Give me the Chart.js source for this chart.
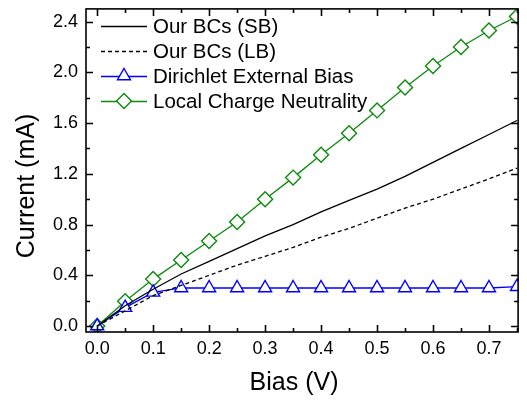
<!DOCTYPE html>
<html>
<head>
<meta charset="utf-8">
<script src="https://cdn.jsdelivr.net/npm/chart.js@4/dist/chart.umd.min.js"></script>
<style>
    html, body { margin: 0; padding: 0; background: #ffffff; }
    #wrap { width: 527px; height: 403px; }
</style>
</head>
<body>
<div id="wrap"><canvas id="iv-plot" width="527" height="403"></canvas></div>
<script>
const biasV = [0.00, 0.05, 0.10, 0.15, 0.20, 0.25, 0.30, 0.35, 0.40, 0.45, 0.50, 0.55, 0.60, 0.65, 0.70, 0.75];
const ourSB = [0, 0.16, 0.29, 0.41, 0.51, 0.61, 0.71, 0.80, 0.90, 0.99, 1.08, 1.18, 1.29, 1.40, 1.51, 1.62];
const ourLB = [0, 0.12, 0.24, 0.32, 0.40, 0.48, 0.55, 0.62, 0.70, 0.77, 0.85, 0.93, 1.00, 1.08, 1.16, 1.245];
const dirichlet = [0, 0.145, 0.265, 0.30, 0.30, 0.30, 0.30, 0.30, 0.30, 0.30, 0.30, 0.30, 0.30, 0.30, 0.30, 0.31];
const chargeNeutral = [0, 0.195, 0.37, 0.52, 0.67, 0.82, 1.00, 1.17, 1.35, 1.52, 1.70, 1.88, 2.05, 2.20, 2.33, 2.44];

const seriesNames = ['Our BCs (SB)', 'Our BCs (LB)', 'Dirichlet External Bias', 'Local Charge Neutrality'];
const xTickValues = [0.0, 0.1, 0.2, 0.3, 0.4, 0.5, 0.6, 0.7];
const yTickValues = [0.0, 0.4, 0.8, 1.2, 1.6, 2.0, 2.4];
const xMinorValues = [0.05, 0.15, 0.25, 0.35, 0.45, 0.55, 0.65, 0.75];
const yMinorValues = [0.2, 0.6, 1.0, 1.4, 1.8, 2.2];

const FONT = 'Liberation Sans, Arial, sans-serif';
const GREEN = '#0b8a0b';
const BLUE = '#0000ff';

function pts(ys) {
    return biasV.map((x, i) => ({ x: x, y: ys[i] }));
}

// frame, inward ticks, axis titles
const frameAndTicks = {
    id: 'frameAndTicks',
    afterDatasetsDraw(chart) {
        const { ctx, chartArea: { left, top, right, bottom }, scales: { x, y } } = chart;
        ctx.save();
        ctx.strokeStyle = '#000';
        ctx.lineWidth = 1.6;
        ctx.strokeRect(left, top, right - left, bottom - top);

        const tick = (px, len, vertical) => {
            ctx.beginPath();
            if (vertical) {
                ctx.moveTo(px, bottom); ctx.lineTo(px, bottom - len);
                ctx.moveTo(px, top); ctx.lineTo(px, top + len);
            } else {
                ctx.moveTo(left, px); ctx.lineTo(left + len, px);
                ctx.moveTo(right, px); ctx.lineTo(right - len, px);
            }
            ctx.stroke();
        };
        xTickValues.forEach(v => tick(Math.round(x.getPixelForValue(v)) + 0.5, 7, true));
        xMinorValues.forEach(v => tick(Math.round(x.getPixelForValue(v)) + 0.5, 4, true));
        yTickValues.forEach(v => tick(Math.round(y.getPixelForValue(v)) + 0.5, 7, false));
        yMinorValues.forEach(v => tick(Math.round(y.getPixelForValue(v)) + 0.5, 4, false));

        ctx.fillStyle = '#000';
        ctx.font = '25px ' + FONT;
        ctx.textAlign = 'center';
        ctx.textBaseline = 'alphabetic';
        ctx.fillText('Bias (V)', 294, 390);
        ctx.translate(34, 186);
        ctx.rotate(-Math.PI / 2);
        ctx.fillText('Current (mA)', 0, 0);
        ctx.restore();
    }
};

// legend with line + marker samples
const lineLegend = {
    id: 'lineLegend',
    afterDraw(chart) {
        const ctx = chart.ctx;
        ctx.save();
        chart.data.datasets.forEach((ds, i) => {
            const yRow = 26 + i * 25;
            ctx.strokeStyle = ds.borderColor;
            ctx.lineWidth = ds.borderWidth;
            ctx.setLineDash(ds.borderDash || []);
            ctx.beginPath();
            ctx.moveTo(101, yRow + 0.5);
            ctx.lineTo(147, yRow + 0.5);
            ctx.stroke();
            ctx.setLineDash([]);
            if (ds.pointRadius > 0) {
                const r = ds.pointRadius, cx = 124, cy = yRow;
                ctx.fillStyle = '#fff';
                ctx.strokeStyle = ds.pointBorderColor;
                ctx.lineWidth = ds.pointBorderWidth;
                ctx.beginPath();
                if (ds.pointStyle === 'triangle') {
                    ctx.moveTo(cx, cy - r);
                    ctx.lineTo(cx + r * 0.866, cy + r * 0.5);
                    ctx.lineTo(cx - r * 0.866, cy + r * 0.5);
                } else {
                    ctx.moveTo(cx, cy - r);
                    ctx.lineTo(cx + r, cy);
                    ctx.lineTo(cx, cy + r);
                    ctx.lineTo(cx - r, cy);
                }
                ctx.closePath();
                ctx.fill();
                ctx.stroke();
            }
            ctx.fillStyle = '#000';
            ctx.font = '20.5px ' + FONT;
            ctx.textAlign = 'left';
            ctx.textBaseline = 'middle';
            ctx.fillText(ds.label, 153, yRow + 1);
        });
        ctx.restore();
    }
};

const ctx = document.getElementById('iv-plot').getContext('2d');
new Chart(ctx, {
    type: 'line',
    plugins: [frameAndTicks, lineLegend],
    data: {
        datasets: [
            {
                label: seriesNames[0], data: pts(ourSB),
                borderColor: '#000', borderWidth: 1.3, pointRadius: 0
            },
            {
                label: seriesNames[1], data: pts(ourLB),
                borderColor: '#000', borderWidth: 1.3, borderDash: [4, 3], pointRadius: 0
            },
            {
                label: seriesNames[2], data: pts(dirichlet),
                borderColor: BLUE, borderWidth: 1.3, pointStyle: 'triangle', pointRadius: 7.5,
                pointBorderColor: BLUE, pointBackgroundColor: '#fff', pointBorderWidth: 1.4
            },
            {
                label: seriesNames[3], data: pts(chargeNeutral),
                borderColor: GREEN, borderWidth: 1.3, pointStyle: 'rectRot', pointRadius: 7.5,
                pointBorderColor: GREEN, pointBackgroundColor: '#fff', pointBorderWidth: 1.4
            }
        ]
    },
    options: {
        responsive: false,
        animation: false,
        layout: { padding: { left: 0, top: 6, right: 1, bottom: 0 } },
        plugins: {
            legend: { display: false },
            tooltip: { enabled: false }
        },
        scales: {
            x: {
                type: 'linear',
                min: -0.02,
                max: 0.752,
                afterBuildTicks: s => { s.ticks = xTickValues.map(v => ({ value: v })); },
                afterFit: s => { s.height = 71; s.paddingLeft = 0; s.paddingRight = 0; },
                grid: { display: false, drawTicks: false },
                border: { display: false },
                ticks: {
                    color: '#000',
                    font: { family: FONT, size: 18 },
                    padding: 6,
                    maxRotation: 0,
                    autoSkip: false,
                    callback: v => v.toFixed(1)
                }
            },
            y: {
                type: 'linear',
                min: -0.047,
                max: 2.5,
                afterBuildTicks: s => { s.ticks = yTickValues.map(v => ({ value: v })); },
                afterFit: s => { s.width = 86; s.paddingTop = 0; s.paddingBottom = 0; },
                grid: { display: false, drawTicks: false },
                border: { display: false },
                ticks: {
                    color: '#000',
                    font: { family: FONT, size: 18 },
                    padding: 8,
                    autoSkip: false,
                    callback: v => v.toFixed(1)
                }
            }
        }
    }
});
</script>
</body>
</html>
